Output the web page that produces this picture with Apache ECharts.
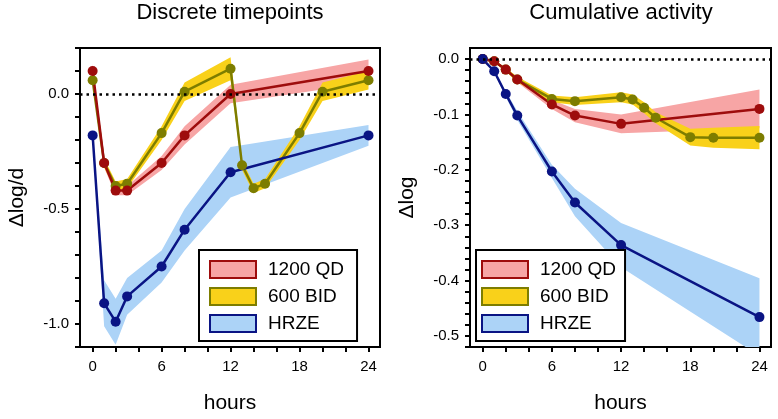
<!DOCTYPE html>
<html>
<head>
<meta charset="utf-8">
<script src="https://cdn.jsdelivr.net/npm/echarts@6/dist/echarts.min.js"></script>
<style>
  html, body { margin: 0; padding: 0; background: #fff; }
  #chart { width: 778px; height: 419px; }
</style>
</head>
<body>
<div id="chart"></div>
<script>
// sampling times (hours)
var hoursQD = [0, 1, 2, 3, 6, 8, 12, 24];
var hoursBID = [0, 1, 2, 3, 6, 8, 12, 13, 14, 15, 18, 20, 24];
var hoursHRZE = [0, 1, 2, 3, 6, 8, 12, 24];

// Discrete timepoints: mean and half-width of the band
var discQD = [0.10, -0.30, -0.42, -0.42, -0.30, -0.18, 0.00, 0.10];
var discQDErr = [0.03, 0.02, 0.02, 0.02, 0.03, 0.04, 0.04, 0.05];
var discBID = [0.06, -0.30, -0.40, -0.39, -0.17, 0.01, 0.11, -0.31, -0.41, -0.39, -0.17, 0.01, 0.06];
var discBIDErr = [0.02, 0.02, 0.02, 0.02, 0.03, 0.04, 0.05, 0.02, 0.02, 0.02, 0.03, 0.04, 0.04];
var discHRZE = [-0.18, -0.91, -0.99, -0.88, -0.75, -0.59, -0.34, -0.18];
var discHRZEErr = [0.01, 0.1, 0.1, 0.08, 0.07, 0.09, 0.11, 0.045];

// Cumulative activity
var cumQD = [0, -0.004, -0.019, -0.037, -0.082, -0.102, -0.117, -0.090];
var cumQDErr = [0, 0.002, 0.003, 0.005, 0.008, 0.012, 0.017, 0.035];
var cumBID = [0, -0.004, -0.019, -0.037, -0.072, -0.076, -0.069, -0.073, -0.088, -0.106, -0.141, -0.142, -0.142];
var cumBIDErr = [0, 0.002, 0.003, 0.005, 0.006, 0.007, 0.009, 0.009, 0.01, 0.01, 0.015, 0.018, 0.021];
var cumHRZE = [0, -0.022, -0.063, -0.102, -0.203, -0.259, -0.336, -0.466];
var cumHRZEErr = [0, 0.003, 0.005, 0.008, 0.012, 0.025, 0.04, 0.07];

// axis ticks / labels
var xLabels = [0, 6, 12, 18, 24];
var xTicks = [0, 2, 4, 6, 8, 10, 12, 14, 16, 18, 20, 22, 24];
var discYLabels = [0, -0.5, -1.0];
var discYTicks = [0.2, 0.1, 0, -0.1, -0.2, -0.3, -0.4, -0.5, -0.6, -0.7, -0.8, -0.9, -1.0, -1.1];
var cumYLabels = [0, -0.1, -0.2, -0.3, -0.4, -0.5];
var cumYTicks = [];
for (var t = 0; t <= 26; t++) cumYTicks.push(-t * 0.02);

var legendNames = ['1200 QD', '600 BID', 'HRZE'];

var FONT = '"Liberation Sans", Arial, sans-serif';
var RED = '#9e0c0c', PINK = '#f7a5a5';
var OLIVE = '#7d7d00', GOLD = '#f9d11a';
var NAVY = '#0a1484', SKY = '#acd3f7';

// shaded band between mean-err and mean+err, drawn as one polygon through the axes
function band(name, idx, hours, mean, err, fill) {
  var rows = [];
  for (var i = 0; i < hours.length; i++) rows.push([hours[i], mean[i] - err[i], mean[i] + err[i]]);
  return {
    type: 'custom', name: name, xAxisIndex: idx, yAxisIndex: idx, silent: true,
    encode: { x: 0, y: [1, 2] },
    itemStyle: { color: fill },
    data: rows,
    renderItem: function (params, api) {
      if (params.dataIndex !== 0) return null;
      var top = [], bottom = [];
      for (var j = 0; j < rows.length; j++) {
        top.push(api.coord([rows[j][0], rows[j][2]]));
        bottom.unshift(api.coord([rows[j][0], rows[j][1]]));
      }
      var cs = params.coordSys;
      return {
        type: 'polygon',
        shape: { points: top.concat(bottom) },
        style: { fill: fill },
        clipPath: { type: 'rect', shape: { x: cs.x, y: cs.y, width: cs.width, height: cs.height } }
      };
    }
  };
}

function curve(name, idx, hours, mean, color) {
  var pts = [];
  for (var i = 0; i < hours.length; i++) pts.push([hours[i], mean[i]]);
  return { type: 'line', name: name + ' mean', xAxisIndex: idx, yAxisIndex: idx, data: pts,
    symbol: 'circle', symbolSize: 10, silent: true,
    lineStyle: { color: color, width: 2.5 }, itemStyle: { color: color } };
}

function xAxisFor(idx) {
  return {
    type: 'value', gridIndex: idx, min: -1.1, max: 25, position: 'bottom',
    name: 'hours', nameLocation: 'middle', nameGap: 46,
    nameTextStyle: { fontSize: 21, color: '#000', fontFamily: FONT },
    axisLine: { onZero: false, lineStyle: { color: '#000', width: 2 } },
    axisTick: { show: true, length: 5, customValues: xTicks, lineStyle: { color: '#000', width: 2 } },
    axisLabel: { customValues: xLabels, fontSize: 15, color: '#000', margin: 12, fontFamily: FONT },
    splitLine: { show: false }
  };
}

function yAxisFor(idx, name, min, max, labels, ticks) {
  return {
    type: 'value', gridIndex: idx, min: min, max: max, position: 'left',
    name: name, nameLocation: 'middle', nameGap: 52,
    nameTextStyle: { fontSize: 21, color: '#000', fontFamily: FONT },
    axisLine: { onZero: false, lineStyle: { color: '#000', width: 2 } },
    axisTick: { show: true, length: 5, customValues: ticks, lineStyle: { color: '#000', width: 2 } },
    axisLabel: { customValues: labels, fontSize: 15, color: '#000', margin: 11, fontFamily: FONT,
      formatter: function (v) { return v.toFixed(1); } },
    splitLine: { show: false }
  };
}

function legendFor(left, padding) {
  var lines = [RED, OLIVE, NAVY], fills = [PINK, GOLD, SKY];
  return {
    orient: 'vertical', left: left, top: 250, padding: padding,
    borderColor: '#000', borderWidth: 2, backgroundColor: '#fff',
    itemWidth: 46, itemHeight: 17, itemGap: 8, selectedMode: false,
    textStyle: { fontSize: 19, color: '#000', fontFamily: FONT, padding: [0, 0, 0, 7] },
    data: legendNames.map(function (n, i) {
      return { name: n, icon: 'rect', itemStyle: { color: fills[i], borderColor: lines[i], borderWidth: 2 } };
    })
  };
}

var zeroLine = {
  silent: true, symbol: 'none', label: { show: false },
  lineStyle: { color: '#000', type: [2.5, 4], width: 2.5 },
  data: [{ yAxis: 0 }]
};

var series = [
  band('HRZE', 0, hoursHRZE, discHRZE, discHRZEErr, SKY),
  band('1200 QD', 0, hoursQD, discQD, discQDErr, PINK),
  band('600 BID', 0, hoursBID, discBID, discBIDErr, GOLD),
  band('HRZE', 1, hoursHRZE, cumHRZE, cumHRZEErr, SKY),
  band('1200 QD', 1, hoursQD, cumQD, cumQDErr, PINK),
  band('600 BID', 1, hoursBID, cumBID, cumBIDErr, GOLD),
  curve('600 BID', 0, hoursBID, discBID, OLIVE),
  curve('1200 QD', 0, hoursQD, discQD, RED),
  curve('HRZE', 0, hoursHRZE, discHRZE, NAVY),
  curve('600 BID', 1, hoursBID, cumBID, OLIVE),
  curve('1200 QD', 1, hoursQD, cumQD, RED),
  curve('HRZE', 1, hoursHRZE, cumHRZE, NAVY)
];
series[8].markLine = zeroLine;
series[11].markLine = zeroLine;

var chart = echarts.init(document.getElementById('chart'));
chart.setOption({
  animation: false,
  textStyle: { fontFamily: FONT },
  graphic: [
    { type: 'text', x: 230, y: 2, style: { text: 'Discrete timepoints', align: 'center', verticalAlign: 'top',
      font: '22px ' + FONT, fill: '#000' } },
    { type: 'text', x: 621, y: 2, style: { text: 'Cumulative activity', align: 'center', verticalAlign: 'top',
      font: '22px ' + FONT, fill: '#000' } }
  ],
  grid: [
    { left: 80, top: 48, width: 300, height: 300, show: true, borderColor: '#000', borderWidth: 2, backgroundColor: 'transparent' },
    { left: 470, top: 48, width: 301, height: 300, show: true, borderColor: '#000', borderWidth: 2, backgroundColor: 'transparent' }
  ],
  legend: [legendFor(199, [10, 13, 8, 10]), legendFor(476, [10, 9, 8, 5])],
  xAxis: [xAxisFor(0), xAxisFor(1)],
  yAxis: [
    yAxisFor(0, 'Δlog/d', -1.1, 0.2, discYLabels, discYTicks),
    yAxisFor(1, 'Δlog', -0.52, 0.02, cumYLabels, cumYTicks)
  ],
  series: series
});
</script>
</body>
</html>
